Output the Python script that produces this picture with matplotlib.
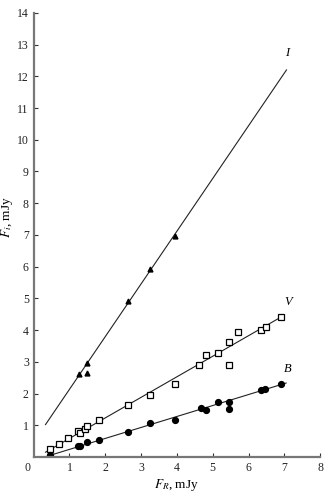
import matplotlib
matplotlib.use("Agg")
import matplotlib.pyplot as plt

# I band (filled triangles)
i_x = [1.26, 1.49, 1.49, 2.64, 3.25, 3.95]
i_y = [2.62, 2.65, 2.97, 4.92, 5.93, 6.97]
i_line_x = [0.33, 7.06]
i_line_y = [1.02, 12.2]

# V band (open squares)
v_x = [0.45, 0.70, 0.95, 1.23, 1.29, 1.43, 1.49, 1.83, 2.64, 3.25, 3.95,
       4.62, 4.82, 5.15, 5.46, 5.46, 5.71, 6.36, 6.50, 6.92]
v_y = [0.25, 0.41, 0.60, 0.82, 0.76, 0.88, 0.98, 1.16, 1.63, 1.96, 2.30,
       2.90, 3.22, 3.28, 3.63, 2.90, 3.94, 4.00, 4.10, 4.42]
v_line_x = [0.33, 7.0]
v_line_y = [0.15, 4.47]

# B band (filled circles)
b_x = [0.45, 1.23, 1.29, 1.49, 1.83, 2.64, 3.25, 3.95, 4.68, 4.82, 5.15,
       5.46, 5.46, 6.36, 6.47, 6.92]
b_y = [0.06, 0.35, 0.35, 0.47, 0.54, 0.79, 1.07, 1.17, 1.55, 1.48, 1.73,
       1.74, 1.51, 2.11, 2.15, 2.30]
b_line_x = [0.31, 7.05]
b_line_y = [0.0, 2.33]

x_ticks = [1, 2, 3, 4, 5, 6, 7, 8]
y_ticks = list(range(1, 15))

plt.rcParams["font.family"] = ["Liberation Serif", "DejaVu Serif"]
plt.rcParams["mathtext.fontset"] = "stix"

fig = plt.figure(figsize=(3.27, 4.94), dpi=100)
ax = fig.add_axes([0.103, 0.075, 0.876, 0.899])

lc = "#222222"
ax.plot(i_line_x, i_line_y, color=lc, lw=0.8)
ax.plot(v_line_x, v_line_y, color=lc, lw=0.8)
ax.plot(b_line_x, b_line_y, color=lc, lw=0.8)

ax.plot(i_x, i_y, ls="none", marker="^", ms=3.5, color="black")
ax.plot(v_x, v_y, ls="none", marker="s", ms=4.2, mfc="white", mec="black", mew=0.9)
ax.plot(b_x, b_y, ls="none", marker="o", ms=4.2, color="black")

ax.text(7.09, 12.74, "I", fontsize=9, style="italic", ha="center", va="center")
ax.text(7.1, 4.9, "V", fontsize=9, style="italic", ha="center", va="center")
ax.text(7.1, 2.78, "B", fontsize=9, style="italic", ha="center", va="center")

ax.set_xlim(0, 8)
ax.set_ylim(0, 14)
ax.set_xticks(x_ticks)
ax.set_yticks(y_ticks)
ax.tick_params(direction="in", length=3, width=0.8, labelsize=8.5, colors="#333333",
               labelcolor="#222222")
for side in ["top", "right"]:
    ax.spines[side].set_visible(False)
for side in ["left", "bottom"]:
    ax.spines[side].set_color("#777777")
    ax.spines[side].set_linewidth(1.6)

# shared origin label
ax.text(-0.17, -0.35, "0", fontsize=8.5, ha="center", va="center", color="#222222")

ax.set_xlabel(r"$F_R$, mJy", fontsize=9.5)
ax.xaxis.set_label_coords(0.5, -0.046)
ax.set_ylabel(r"$F_i$, mJy", fontsize=9.5)
ax.yaxis.set_label_coords(-0.066, 0.54)

fig.savefig("out.png", dpi=100)
